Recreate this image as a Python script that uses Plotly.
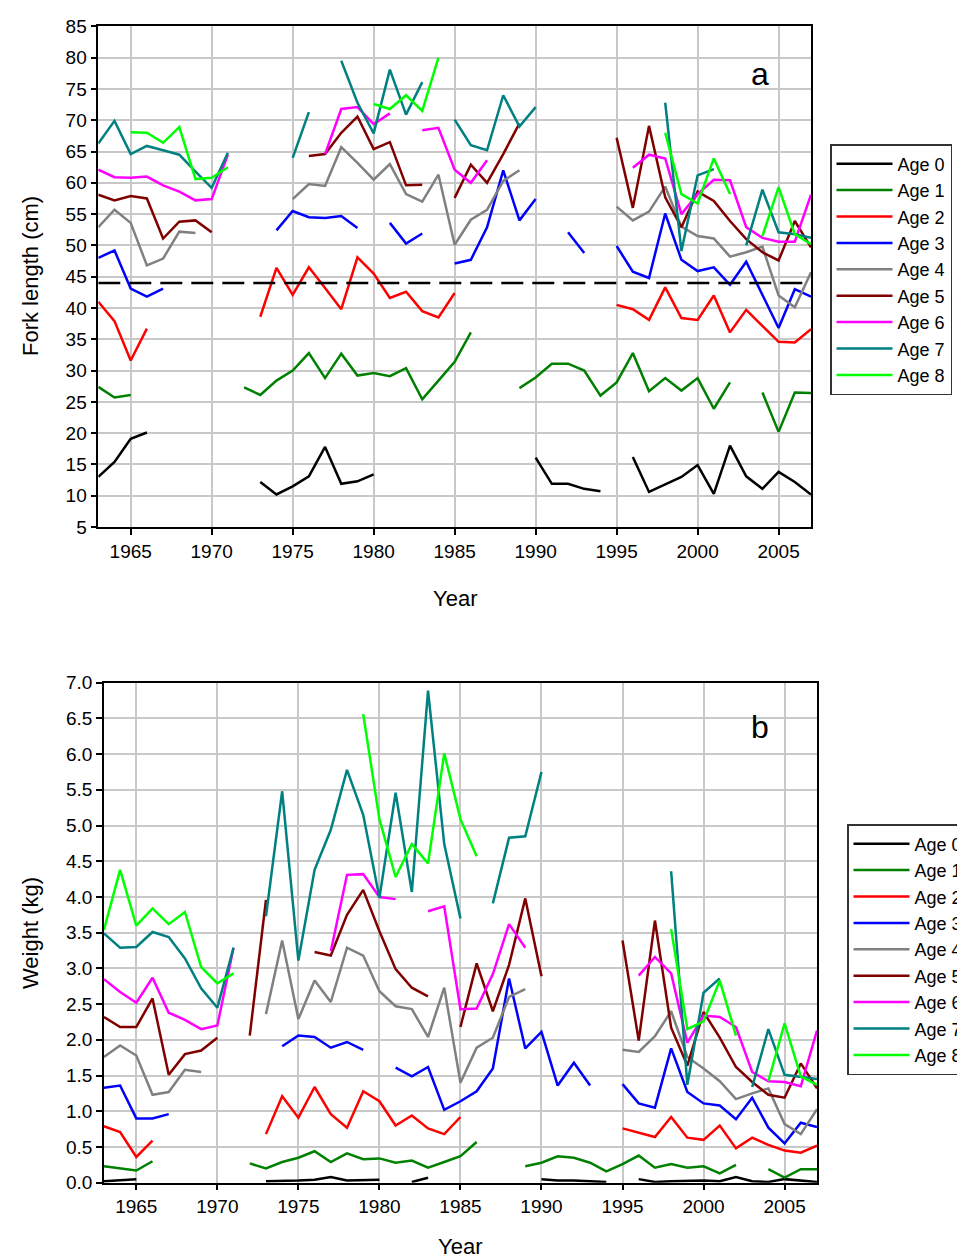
import plotly.graph_objects as go

years = list(range(1963, 2008))
N = None

# Panel a: fork length (cm), one value per year 1963..2007 (None = no data)
fl_age0 = [13.0, 15.4, 19.1, 20.1, N, N, N, N, N, N, 12.2, 10.2, 11.5, 13.1, 17.8, 11.9, 12.3, 13.4, N, N,
           N, N, N, N, N, N, N, 16.1, 11.9, 11.9, 11.1, 10.7, N, 16.2, 10.6, 11.8, 13.0, 14.9, 10.3, 18.0,
           13.1, 11.1, 13.8, 12.2, 10.2]
fl_age1 = [27.4, 25.7, 26.1, N, N, N, N, N, N, 27.3, 26.1, 28.4, 30.0, 32.8, 28.8, 32.7, 29.2, 29.6, 29.1, 30.4,
           25.4, 28.4, 31.4, 36.1, N, N, 27.2, 28.9, 31.1, 31.1, 30.0, 26.0, 28.1, 32.8, 26.7, 28.8, 26.8, 28.8,
           23.9, 28.1, N, 26.5, 20.2, 26.5, 26.4]
fl_age2 = [41.0, 37.9, 31.6, 36.7, N, N, N, N, N, N, 38.6, 46.4, 42.1, 46.5, 43.2, 39.8, 48.1, 45.5, 41.6, 42.6,
           39.5, 38.5, 42.4, N, N, N, N, N, N, N, N, N, 40.5, 39.8, 38.1, 43.3, 38.4, 38.1, 42.0, 36.1,
           39.7, 37.2, 34.6, 34.5, 36.6]
fl_age3 = [48.0, 49.2, 43.1, 41.8, 43.1, N, N, N, N, N, N, 52.4, 55.5, 54.5, 54.4, 54.7, 52.8, N, 53.6, 50.3,
           51.9, N, 47.1, 47.7, 52.9, 62.0, 54.0, 57.4, N, 52.1, 48.8, N, 49.9, 45.8, 44.8, 55.1, 47.7, 45.9,
           46.5, 43.7, 47.4, 42.1, 36.8, 43.0, 41.8]
fl_age4 = [52.9, 55.7, 53.6, 46.8, 47.9, 52.2, 52.0, N, N, N, N, N, 57.4, 59.8, 59.5, 65.7, 63.2, 60.5, 63.0, 58.2,
           57.0, 61.3, 50.1, 54.1, 55.7, 60.3, 62.0, N, N, N, N, N, 56.2, 54.0, 55.4, 59.4, 53.0, 51.5,
           51.1, 48.2, 48.9, 49.8, 42.0, 40.1, 45.7]
fl_age5 = [58.1, 57.2, 57.9, 57.5, 51.1, 53.8, 54.0, 52.1, N, N, N, N, N, 64.3, 64.6, 68.0, 70.6, 65.4, 66.5, 59.6,
           59.7, N, 57.6, 62.9, 60.0, 64.6, 69.5, N, N, N, N, N, 67.2, 56.0, 69.1, 57.7, 52.9, 58.6,
           57.1, 53.9, 51.0, 48.9, 47.6, 53.9, 49.7]
fl_age6 = [62.1, 60.9, 60.8, 61.0, 59.6, 58.6, 57.2, 57.4, 64.5, N, N, N, N, N, 64.6, 71.8, 72.1, 69.4, 71.1, N,
           68.4, 68.8, 62.1, 60.0, 63.6, N, N, N, N, N, N, N, N, 62.4, 64.5, 63.9, 55.0, 58.2,
           60.5, 60.4, 52.9, 51.2, 50.6, 50.6, 58.1]
fl_age7 = [66.3, 69.9, 64.6, 65.9, 65.2, 64.5, 61.8, 59.2, 64.8, N, N, N, 64.0, 71.3, N, 79.5, 72.8, 67.9, 78.1, 70.9,
           76.1, N, 70.1, 66.0, 65.2, 74.0, 69.0, 72.1, N, N, N, N, N, N, N, 72.8, 49.1, 61.2,
           62.2, N, 50.0, 58.9, 52.1, 51.8, 51.2]
fl_age8 = [N, N, 68.1, 68.0, 66.4, 68.9, 60.6, 60.8, 62.5, N, N, N, N, N, N, N, N, 72.6, 71.8, 74.0,
           71.5, 80.0, N, N, N, N, N, N, N, N, N, N, N, N, N, 68.0, 58.2, 56.7,
           63.9, 58.2, N, 51.5, 59.3, 51.8, 50.2]

# Panel b: weight (kg)
wt_age0 = [0.02, 0.04, 0.05, N, N, N, N, N, N, N, 0.02, 0.02, 0.03, 0.04, 0.08, 0.03, 0.03, 0.04, N, 0.01,
           0.07, N, N, N, N, N, N, 0.05, 0.03, 0.03, 0.02, 0.01, N, 0.05, 0.01, 0.02, 0.03, 0.03,
           0.02, 0.08, 0.02, 0.01, 0.05, 0.03, 0.01]
wt_age1 = [0.23, 0.20, 0.17, 0.30, N, N, N, N, N, 0.27, 0.20, 0.29, 0.35, 0.44, 0.29, 0.41, 0.33, 0.34, 0.28, 0.31,
           0.21, 0.29, 0.37, 0.57, N, N, 0.23, 0.28, 0.37, 0.35, 0.28, 0.16, 0.26, 0.38, 0.21, 0.26, 0.21, 0.23,
           0.13, 0.25, N, 0.19, 0.07, 0.19, 0.19]
wt_age2 = [0.79, 0.71, 0.36, 0.59, N, N, N, N, N, N, 0.68, 1.21, 0.91, 1.34, 0.96, 0.77, 1.28, 1.14, 0.80, 0.94,
           0.76, 0.68, 0.92, N, N, N, N, N, N, N, N, N, 0.76, 0.70, 0.64, 0.92, 0.63, 0.60,
           0.80, 0.48, 0.63, 0.53, 0.45, 0.42, 0.52]
wt_age3 = [1.33, 1.36, 0.90, 0.90, 0.96, N, N, N, N, N, N, 1.91, 2.06, 2.04, 1.89, 1.97, 1.86, N, 1.61, 1.49,
           1.62, 1.02, 1.14, 1.28, 1.60, 2.86, 1.88, 2.11, 1.36, 1.68, 1.36, N, 1.38, 1.11, 1.05, 1.88, 1.27, 1.11,
           1.08, 0.89, 1.19, 0.77, 0.55, 0.84, 0.78]
wt_age4 = [1.76, 1.92, 1.78, 1.23, 1.27, 1.58, 1.55, N, N, N, 2.36, 3.39, 2.29, 2.83, 2.53, 3.29, 3.18, 2.68, 2.47, 2.43,
           2.04, 2.73, 1.40, 1.89, 2.03, 2.60, 2.71, N, N, N, N, N, 1.86, 1.83, 2.05, 2.40, 1.76, 1.60,
           1.42, 1.17, 1.25, 1.32, 0.82, 0.68, 1.03]
wt_age5 = [2.32, 2.18, 2.18, 2.58, 1.51, 1.80, 1.85, 2.03, N, 2.06, 3.96, N, N, 3.23, 3.18, 3.75, 4.10, 3.52, 2.99, 2.73,
           2.61, N, 2.18, 3.07, 2.40, 3.05, 3.98, 2.89, N, N, N, N, 3.39, 1.99, 3.67, 2.17, 1.64, 2.39,
           2.03, 1.62, 1.41, 1.23, 1.19, 1.67, 1.32]
wt_age6 = [2.85, 2.67, 2.52, 2.87, 2.38, 2.28, 2.15, 2.20, 3.29, N, N, N, N, N, 3.24, 4.31, 4.32, 4.00, 3.97, N,
           3.80, 3.87, 2.43, 2.44, 2.92, 3.62, 3.29, N, N, N, N, N, N, 2.90, 3.16, 2.93, 1.96, 2.34,
           2.32, 2.18, 1.55, 1.42, 1.41, 1.35, 2.13]
wt_age7 = [3.49, 3.29, 3.30, 3.51, 3.44, 3.14, 2.72, 2.45, 3.29, N, 3.73, 5.48, 3.11, 4.38, 4.94, 5.78, 5.15, 3.99, 5.46, 4.07,
           6.89, 4.74, 3.70, N, 3.91, 4.83, 4.85, 5.75, N, N, N, N, N, N, N, 4.36, 1.37, 2.66,
           2.86, N, 1.34, 2.15, 1.51, 1.48, 1.45]
wt_age8 = [3.54, 4.38, 3.60, 3.84, 3.62, 3.79, 3.02, 2.79, 2.93, N, N, N, N, N, N, N, 6.56, 5.09, 4.28, 4.74,
           4.47, 6.01, 5.09, 4.57, N, N, N, N, N, N, N, N, N, N, N, 3.55, 2.15, 2.26,
           2.83, 2.06, N, 1.42, 2.23, 1.49, 1.37]

age_labels = ["Age 0", "Age 1", "Age 2", "Age 3", "Age 4", "Age 5", "Age 6", "Age 7", "Age 8"]
colors = ["#000000", "#008000", "#FF0000", "#0000FF", "#808080", "#800000", "#FF00FF", "#008080", "#00FF00"]
length_series = [fl_age0, fl_age1, fl_age2, fl_age3, fl_age4, fl_age5, fl_age6, fl_age7, fl_age8]
weight_series = [wt_age0, wt_age1, wt_age2, wt_age3, wt_age4, wt_age5, wt_age6, wt_age7, wt_age8]
threshold_length = 44

W, H = 965, 1257
FONT = "Arial, Liberation Sans, sans-serif"

fig = go.Figure()
for lab, col, vals in zip(age_labels, colors, length_series):
    fig.add_trace(go.Scatter(x=years, y=vals, mode="lines", name=lab, line=dict(color=col, width=2.5),
                             connectgaps=False, xaxis="x", yaxis="y", legend="legend"))
for lab, col, vals in zip(age_labels, colors, weight_series):
    fig.add_trace(go.Scatter(x=years, y=vals, mode="lines", name=lab, line=dict(color=col, width=2.5),
                             connectgaps=False, xaxis="x2", yaxis="y2", legend="legend2"))

fig.add_shape(type="line", xref="x", yref="y", x0=years[0], x1=years[-1], y0=threshold_length, y1=threshold_length,
              line=dict(color="black", width=2.5, dash="22px,9px"))

axis_common = dict(showline=True, linecolor="black", linewidth=1.5, mirror=True, ticks="outside",
                   tickcolor="black", ticklen=6, tickwidth=1.5, showgrid=True, gridcolor="#C8C8C8",
                   gridwidth=1.5, zeroline=False, tickfont=dict(family=FONT, size=19, color="black"))

fig.update_layout(
    width=W, height=H, margin=dict(l=0, r=0, t=0, b=0, autoexpand=False),
    paper_bgcolor="white", plot_bgcolor="white",
    font=dict(family=FONT, color="black"),
    xaxis=dict(domain=[90.3 / W, 803 / W], range=[1963, 2007], anchor="y",
               tickvals=list(range(1965, 2006, 5)), **axis_common),
    yaxis=dict(domain=[1 - 519 / H, 1 - 18.4 / H], range=[5, 85], anchor="x",
               tickvals=list(range(5, 86, 5)), **axis_common),
    xaxis2=dict(domain=[95.9 / W, 809 / W], range=[1963, 2007], anchor="y2",
                tickvals=list(range(1965, 2006, 5)), **axis_common),
    yaxis2=dict(domain=[1 - 1174.7 / H, 1 - 674.7 / H], range=[0, 7], anchor="x2",
                tickvals=[i * 0.5 for i in range(15)], tickformat=".1f", **axis_common),
    legend=dict(x=822 / W, y=1 - 136 / H, xanchor="left", yanchor="top", bgcolor="white",
                bordercolor="#333333", borderwidth=1.5, font=dict(family=FONT, size=18, color="black"),
                tracegroupgap=0, itemwidth=56),
    legend2=dict(x=839 / W, y=1 - 816 / H, xanchor="left", yanchor="top", bgcolor="white",
                 bordercolor="#333333", borderwidth=1.5, font=dict(family=FONT, size=18, color="black"),
                 tracegroupgap=0, itemwidth=56),
    showlegend=True,
)

ann = [
    dict(text="Year", x=447 / W, y=1 - 590 / H),
    dict(text="Year", x=452 / W, y=1 - 1238 / H),
    dict(text="Fork length (cm)", x=22 / W, y=1 - 268 / H, textangle=-90),
    dict(text="Weight (kg)", x=22 / W, y=1 - 925 / H, textangle=-90),
]
for a in ann:
    fig.add_annotation(xref="paper", yref="paper", showarrow=False, xanchor="center", yanchor="middle",
                       font=dict(family=FONT, size=22, color="black"), **a)
fig.add_annotation(xref="paper", yref="paper", x=752 / W, y=1 - 66 / H, text="a", showarrow=False,
                   xanchor="center", yanchor="middle", font=dict(family=FONT, size=32, color="black"))
fig.add_annotation(xref="paper", yref="paper", x=752 / W, y=1 - 719 / H, text="b", showarrow=False,
                   xanchor="center", yanchor="middle", font=dict(family=FONT, size=32, color="black"))

fig.write_html("out.html")
